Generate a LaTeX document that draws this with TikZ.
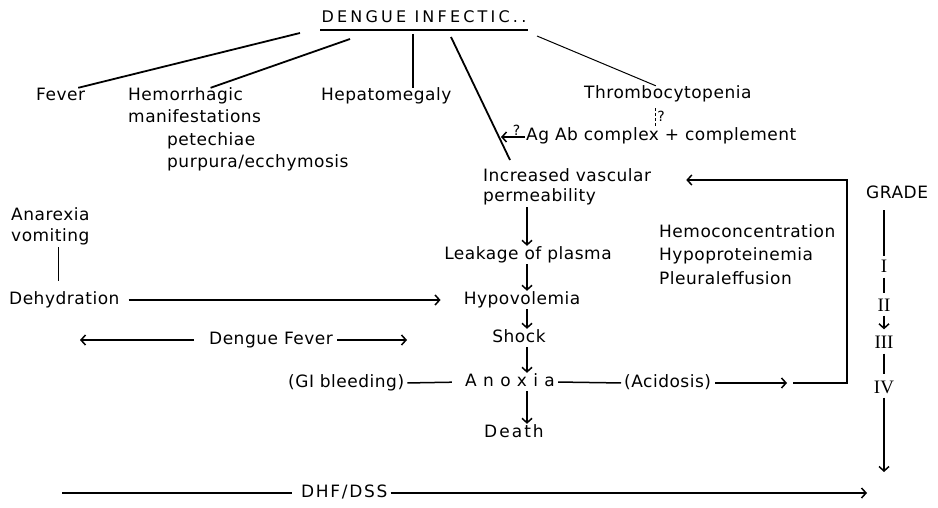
\documentclass[tikz,border=0pt]{standalone}
\usepackage{fontspec}
\setmainfont{DejaVu Sans}[LetterSpace=3]
\newfontfamily\romfont{Liberation Serif}
\usetikzlibrary{arrows.meta}

\begin{document}
\begin{tikzpicture}[x=1pt, y=-1pt, >={Straight Barb[length=4.5pt,width=10pt]},
  lbl/.style={anchor=west, inner sep=1pt, text height=12pt, text depth=4pt, font=\fontsize{17}{20}\selectfont},
  num/.style={inner sep=1pt, text height=13pt, text depth=0pt, font=\romfont\fontsize{19}{22}\selectfont},
  qm/.style={inner sep=1pt, font=\fontsize{14}{16}\selectfont},
  branch/.style={line width=1.8pt},
  flow/.style={line width=1.5pt}]
  \useasboundingbox (0,0) rectangle (938,508);
  % title
  \node[inner sep=1pt, text height=12pt, text depth=0pt, font=\fontsize{16}{19}\selectfont\addfontfeature{LetterSpace=20}] (title) at (424,17) {DENGUE INFECTIC..};
  \draw[line width=1.5pt] ([yshift=-6pt]title.south west) -- ([yshift=-6pt]title.south east);
  \coordinate (t1) at (300,33);
  \coordinate (t2) at (350,39);
  \coordinate (t3) at (413,34);
  \coordinate (t4) at (451,37);
  \coordinate (t5) at (537,36);
  \coordinate (d4) at (510,160);
  % signs
  \node[lbl] (fever) at (35,97) {Fever};
  \node[lbl] (hem) at (127,97) {Hemorrhagic};
  \node[lbl] (man) at (127,119) {manifestations};
  \node[lbl] (pet) at (166,142) {petechiae};
  \node[lbl] (pur) at (166,164) {purpura/ecchymosis};
  \node[lbl] (hep) at (320,97) {Hepatomegaly};
  \node[lbl] (thr) at (583,95) {Thrombocytopenia};
  \node[lbl] (agab) at (525,137) {Ag Ab complex + complement};
  \node[lbl] (inc) at (482,178) {Increased vascular};
  \node[lbl] (perm) at (482,198) {permeability};
  \draw[branch] (t1) -- ([xshift=-8pt]fever.north east);
  \draw[branch] (t2) -- ([xshift=25pt]hem.north);
  \draw[branch] (t3) -- (t3 |- hep.north);
  \draw[branch] (t4) -- (d4);
  \draw[line width=1pt] (t5) -- ([xshift=-12pt]thr.north);
  \draw[densely dashed, line width=1.2pt, shorten <=4pt] ([xshift=-12pt]thr.south) -- ([xshift=-12pt]thr.south |- agab.north) node[qm, midway, right] (q2) {?};
  \coordinate (agt) at (501,137);
  \draw[->, flow] (agab.west) -- (agt) node[qm, pos=0.35, above] (q1) {?};
  % main chain
  \coordinate (axis) at (527,0);
  \node[lbl, anchor=center] (leak) at (528,255) {Leakage of plasma};
  \node[lbl, anchor=center] (hypo) at (522,300) {Hypovolemia};
  \node[lbl, anchor=center] (shock) at (519,338) {Shock};
  \node[lbl, anchor=center, font=\fontsize{17}{20}\selectfont\addfontfeature{LetterSpace=38}] (anox) at (510,382) {Anoxia};
  \node[lbl, anchor=center, font=\fontsize{17}{20}\selectfont\addfontfeature{LetterSpace=12}] (death) at (514,433) {Death};
  \draw[->, flow] (axis |- perm.south) -- (axis |- leak.north);
  \draw[->, flow] (axis |- leak.south) -- (axis |- hypo.north);
  \draw[->, flow] (axis |- hypo.south) -- (axis |- shock.north);
  \draw[->, flow] (axis |- shock.south) -- (axis |- anox.north);
  \draw[->, flow] (axis |- anox.south) -- (axis |- death.north);
  % left side
  \node[lbl] (anx) at (10,217) {Anarexia};
  \node[lbl] (vom) at (10,238) {vomiting};
  \node[lbl] (dehy) at (8,300) {Dehydration};
  \draw[flow, shorten >=10pt] ([xshift=8pt]vom.south) -- ([xshift=8pt]vom.south |- dehy.north);
  \draw[->, flow, shorten <=8pt, shorten >=22pt] (dehy.east) -- (hypo.west);
  \node[lbl] (df) at (208,340) {Dengue Fever};
  \coordinate (dfl) at (80,340);
  \coordinate (dfr) at (407,340);
  \draw[->, flow, shorten <=14pt] (df.west) -- (dfl);
  \draw[->, flow, shorten <=3pt] (df.east) -- (dfr);
  % anoxia row
  \node[lbl] (gib) at (287,383) {(GI bleeding)};
  \node[lbl] (acid) at (623,383) {(Acidosis)};
  \draw[flow, shorten <=2pt, shorten >=12pt] (gib.east) -- (anox.west);
  \draw[flow, shorten <=2pt, shorten >=2pt] (anox.east) -- (acid.west);
  \coordinate (acx) at (787,383);
  \coordinate (acy) at (793,383);
  \coordinate (brk) at (847,180);
  \draw[->, flow, shorten <=3pt] (acid.east) -- (acx);
  \draw[->, flow, shorten >=34pt] (acy) -| (brk) -- (brk -| inc.east);
  \node[lbl] (hc) at (658,233) {Hemoconcentration};
  \node[lbl] (hp) at (658,257) {Hypoproteinemia};
  \node[lbl] (pe) at (658,280) {Pleuraleffusion};
  % grade
  \node[lbl] (grade) at (865,195) {GRADE};
  \node[num] (g1) at (884,266) {I};
  \node[num] (g2) at (884,305) {II};
  \node[num] (g3) at (884,342) {III};
  \node[num] (g4) at (884,387) {IV};
  \coordinate (gend) at (884,472);
  \draw[flow, shorten <=6pt, shorten >=2pt] (g1 |- grade.south) -- (g1.north);
  \draw[flow, shorten <=4pt, shorten >=4pt] (g1.south) -- (g2.north);
  \draw[->, flow, shorten <=3pt, shorten >=5pt] (g2.south) -- (g3.north);
  \draw[flow, shorten <=4pt, shorten >=5pt] (g3.south) -- (g4.north);
  \draw[->, flow, shorten <=3pt] (g4.south) -- (gend);
  % bottom
  \node[lbl, font=\fontsize{17}{20}\selectfont\addfontfeature{LetterSpace=10}] (dhf) at (300,493) {DHF/DSS};
  \coordinate (dhfl) at (62,493);
  \coordinate (dhfr) at (867,493);
  \draw[flow, shorten >=8pt] (dhfl) -- (dhf.west);
  \draw[->, flow, shorten <=2pt] (dhf.east) -- (dhfr);
\end{tikzpicture}
\end{document}
